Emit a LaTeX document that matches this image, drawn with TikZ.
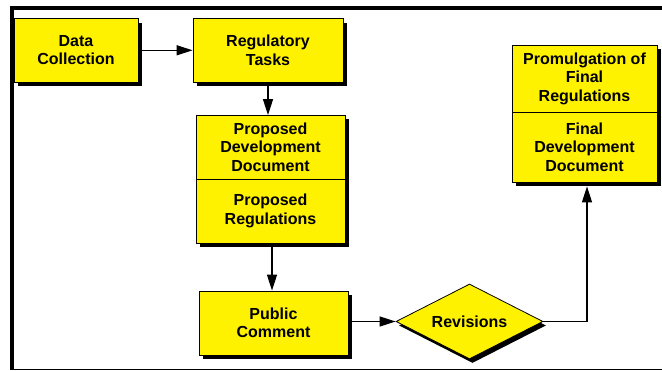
\documentclass[tikz,border=0pt]{standalone}
\usepackage{fontspec}
\setmainfont{Liberation Sans}
\usetikzlibrary{shapes.geometric,shadows,arrows.meta}
\begin{document}
\begin{tikzpicture}[x=1pt,y=-1pt,
  font=\fontsize{16}{18.5}\selectfont\bfseries,
  box/.style={draw=black, line width=0.8pt, fill=yellow, inner sep=0pt, align=center,
    drop shadow={shadow xshift=4pt, shadow yshift=-4pt, opacity=1, fill=black}},
  dia/.style={shape=diamond, aspect=2, draw=black, line width=0.8pt, fill=yellow, inner sep=0pt,
    drop shadow={shadow xshift=3pt, shadow yshift=-4pt, opacity=1, fill=black}},
  conn/.style={line width=1.3pt, -{Triangle[length=16pt,width=10pt]}}
]
\useasboundingbox (0,0) rectangle (662,371);
% frame
\draw[line width=1.3pt] (12,369.3) -- (662,369.3);
\draw[line width=4pt] (12,370) -- (12,8) -- (662,8);

% nodes
\node[box, minimum width=124pt, minimum height=63.3pt] (dc) at (76,50.3) {Data\\Collection};
\node[box, minimum width=150pt, minimum height=63.3pt] (rt) at (268,50.3) {Regulatory\\Tasks};
\node[box, minimum width=149pt, minimum height=64pt] (pdd) at (270.5,147) {Proposed\\Development\\Document};
\node[box, minimum width=149pt, minimum height=64pt] (pr) at (270.5,211) {Proposed\\Regulations};
\node[box, minimum width=149pt, minimum height=64pt] (pc) at (273.5,323) {Public\\Comment};
\node[dia, minimum width=147pt, minimum height=75pt] (rev) at (469.5,321.5) {Revisions};
\node[box, minimum width=145pt, minimum height=67pt] (pfr) at (584.5,78.5) {Promulgation of\\Final\\Regulations};
\node[box, minimum width=145pt, minimum height=70pt] (fdd) at (584.5,147) {Final\\Development\\Document};

% connectors
\draw[conn] (dc.east) -- (rt.west);
\draw[conn] (rt.south) -- ([yshift=-0.5pt]rt.south |- pdd.north);
\draw[conn] ([shift={(1.5pt,-4pt)}]pr.south) -- ([xshift=1.5pt]pr.south |- pc.north);
\draw[conn] (pc.east |- rev.west) -- (rev.west);
\coordinate (bend) at ([xshift=2.5pt]fdd.south |- rev.east);
\draw[conn] (rev.east) -- (bend) -- ([shift={(2.5pt,-4pt)}]fdd.south);
\end{tikzpicture}
\end{document}
